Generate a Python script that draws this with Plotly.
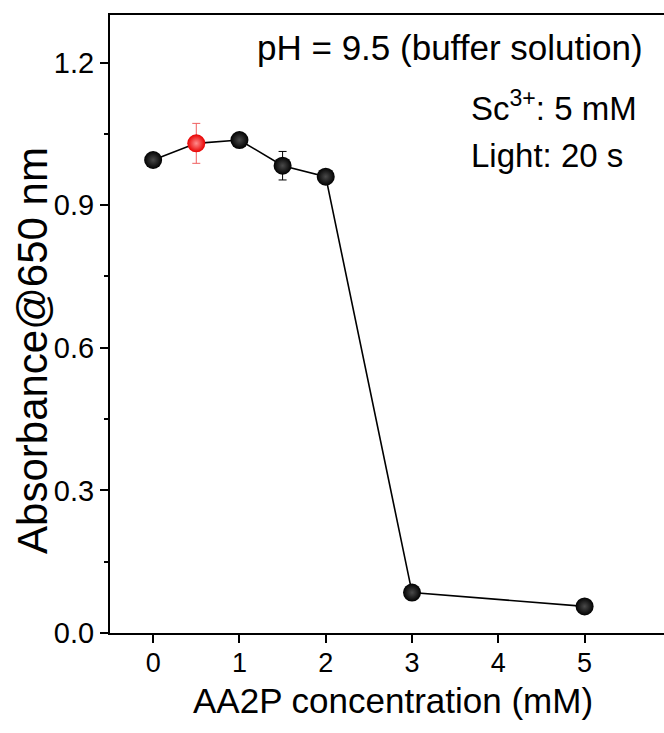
import plotly.graph_objects as go

# AA2P concentration (mM) and absorbance at 650 nm
conc = [0, 0.5, 1, 1.5, 2, 3, 5]
absorbance = [0.995, 1.030, 1.037, 0.983, 0.960, 0.085, 0.056]
abs_err = [0.005, 0.042, 0.012, 0.030, 0.006, 0.008, 0.005]

# the 0.5 mM point is highlighted in red
hl_index = 1

x_ticks = [0, 1, 2, 3, 4, 5]
y_ticks = [0.0, 0.3, 0.6, 0.9, 1.2]

FONT = "Liberation Sans, Arial, sans-serif"

fig = go.Figure()

# connecting line
fig.add_trace(go.Scatter(
    x=conc, y=absorbance, mode="lines",
    line=dict(color="black", width=1.6),
    hoverinfo="skip", showlegend=False,
))

black_idx = [i for i in range(len(conc)) if i != hl_index]

# black spheres with error bars
fig.add_trace(go.Scatter(
    x=[conc[i] for i in black_idx],
    y=[absorbance[i] for i in black_idx],
    mode="markers",
    error_y=dict(type="data", array=[abs_err[i] for i in black_idx],
                 color="black", thickness=1, width=4),
    marker=dict(size=18, color="black",
                gradient=dict(type="radial", color="#4a4a4a"),
                line=dict(width=0)),
    showlegend=False,
))

# red sphere
fig.add_trace(go.Scatter(
    x=[conc[hl_index]], y=[absorbance[hl_index]],
    mode="markers",
    error_y=dict(type="data", array=[abs_err[hl_index]],
                 color="#f06060", thickness=1, width=4),
    marker=dict(size=18, color="#e80000",
                gradient=dict(type="radial", color="#ff8c8c"),
                line=dict(width=0)),
    showlegend=False,
))

fig.update_layout(
    width=664, height=733,
    margin=dict(l=110, r=0, t=15, b=100),
    paper_bgcolor="white", plot_bgcolor="white",
    font=dict(family=FONT, color="black"),
    xaxis=dict(
        range=[-0.5, 5.92],
        tickvals=x_ticks, ticktext=[str(v) for v in x_ticks],
        ticks="outside", ticklen=8, tickwidth=2, tickcolor="black",
        ticklabelstandoff=-3,
        showline=True, linecolor="black", linewidth=2, mirror=True,
        showgrid=False, zeroline=False,
        tickfont=dict(size=27),
    ),
    yaxis=dict(
        range=[0, 1.3],
        tickvals=y_ticks, ticktext=[f"{v:.1f}" for v in y_ticks],
        ticks="outside", ticklen=8, tickwidth=2, tickcolor="black",
        minor=dict(tickvals=[0.15, 0.45, 0.75, 1.05], ticks="outside",
                   ticklen=4, tickwidth=2, tickcolor="black"),
        showline=True, linecolor="black", linewidth=2, mirror=False,
        showgrid=False, zeroline=False,
        tickfont=dict(size=29),
    ),
    annotations=[
        # axis titles
        dict(text="AA2P concentration (mM)", xref="paper", yref="paper",
             x=0.51, y=-0.109, xanchor="center", yanchor="middle",
             showarrow=False, font=dict(size=35)),
        dict(text="Absorbance@650 nm", xref="paper", yref="paper",
             x=-0.139, y=0.458, xanchor="center", yanchor="middle",
             textangle=-90, showarrow=False, font=dict(size=42)),
        # experimental conditions
        dict(text="pH = 9.5 (buffer solution)", xref="paper", yref="paper",
             x=0.966, y=0.947, xanchor="right", yanchor="middle",
             showarrow=False, font=dict(size=35)),
        dict(text="Sc<sup>3+</sup>: 5 mM", xref="paper", yref="paper",
             x=0.648, y=0.852, xanchor="left", yanchor="middle",
             showarrow=False, font=dict(size=33)),
        dict(text="Light: 20 s", xref="paper", yref="paper",
             x=0.648, y=0.772, xanchor="left", yanchor="middle",
             showarrow=False, font=dict(size=33)),
    ],
)

fig.write_html("out.html")
